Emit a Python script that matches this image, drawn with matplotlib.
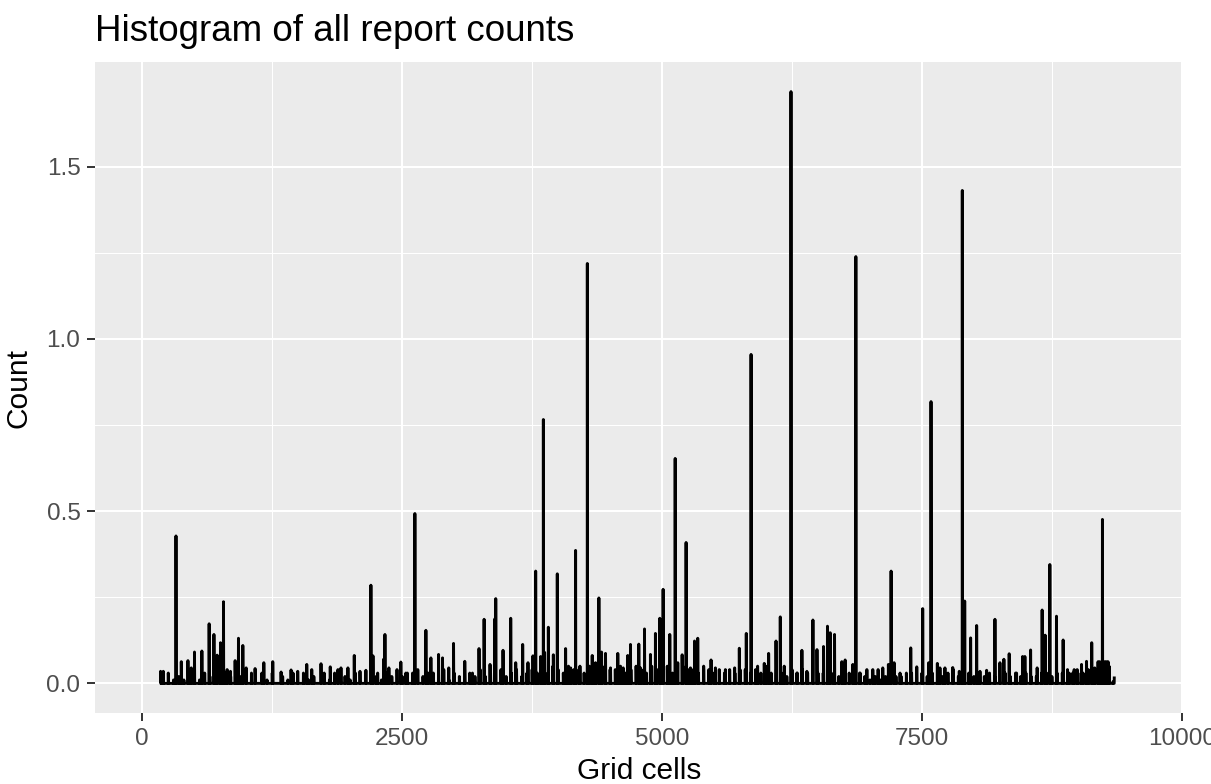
import numpy as np
import matplotlib.pyplot as plt

plt.rcParams['font.family'] = ['Liberation Sans', 'DejaVu Sans']

# grid cells holding the larger report counts
spike_cells = [176, 202, 324, 375, 439, 471, 502, 573, 643, 689, 720, 752, 781, 816, 848,
               893, 925, 967, 999, 1085, 1169, 1255, 1335, 1431, 1495, 1582, 1630, 1719,
               1808, 1882, 1911, 1978, 2039, 2094, 2151, 2199, 2219, 2264, 2321, 2334, 2372,
               2487, 2535, 2600, 2622, 2728, 2776, 2850, 2888, 2948, 2994, 3102, 3176, 3239,
               3288, 3345, 3390, 3400, 3470, 3544, 3592, 3659, 3710, 3758, 3784, 3832, 3858,
               3870, 3906, 3954, 3992, 4072, 4120, 4168, 4210, 4281, 4328, 4360, 4392, 4418,
               4456, 4504, 4574, 4626, 4670, 4696, 4776, 4792, 4831, 4888, 4936, 4978, 5010,
               5074, 5126, 5151, 5193, 5231, 5273, 5312, 5343, 5401, 5471, 5513, 5609, 5698,
               5743, 5810, 5856, 5919, 5983, 6025, 6096, 6137, 6175, 6240, 6297, 6345, 6393,
               6451, 6490, 6553, 6591, 6617, 6659, 6729, 6761, 6835, 6864, 6906, 6970, 7027,
               7078, 7123, 7177, 7203, 7232, 7289, 7392, 7450, 7507, 7565, 7587, 7648, 7673,
               7721, 7796, 7859, 7888, 7911, 7968, 8026, 8058, 8122, 8202, 8250, 8288, 8339,
               8410, 8468, 8490, 8545, 8608, 8656, 8685, 8730, 8794, 8858, 8916, 8964, 8993,
               9035, 9083, 9133, 9162, 9194, 9210, 9236, 9258, 9274, 9290, 9338]
spike_counts = [0.035, 0.035, 0.428, 0.063, 0.066, 0.045, 0.091, 0.094, 0.173, 0.142, 0.082,
                0.118, 0.237, 0.040, 0.035, 0.066, 0.131, 0.110, 0.045, 0.043, 0.060, 0.063,
                0.033, 0.039, 0.035, 0.055, 0.040, 0.057, 0.048, 0.040, 0.045, 0.045, 0.081,
                0.035, 0.038, 0.285, 0.080, 0.030, 0.070, 0.142, 0.045, 0.062, 0.030, 0.030,
                0.493, 0.154, 0.074, 0.084, 0.074, 0.045, 0.116, 0.064, 0.030, 0.101, 0.186,
                0.055, 0.187, 0.246, 0.096, 0.189, 0.060, 0.113, 0.060, 0.080, 0.326, 0.078,
                0.766, 0.090, 0.163, 0.083, 0.318, 0.101, 0.045, 0.386, 0.050, 1.219, 0.081,
                0.060, 0.248, 0.091, 0.087, 0.045, 0.087, 0.045, 0.081, 0.113, 0.114, 0.045,
                0.158, 0.084, 0.145, 0.189, 0.273, 0.142, 0.653, 0.060, 0.083, 0.409, 0.045,
                0.123, 0.131, 0.040, 0.068, 0.045, 0.040, 0.045, 0.102, 0.145, 0.955, 0.050,
                0.058, 0.087, 0.123, 0.193, 0.050, 1.718, 0.030, 0.096, 0.035, 0.184, 0.098,
                0.107, 0.166, 0.147, 0.142, 0.063, 0.068, 0.055, 1.239, 0.030, 0.040, 0.040,
                0.040, 0.045, 0.055, 0.326, 0.060, 0.030, 0.103, 0.048, 0.217, 0.060, 0.818,
                0.058, 0.045, 0.045, 0.046, 0.035, 1.431, 0.239, 0.132, 0.168, 0.035, 0.038,
                0.186, 0.060, 0.070, 0.086, 0.030, 0.078, 0.078, 0.097, 0.045, 0.213, 0.140,
                0.345, 0.195, 0.126, 0.030, 0.040, 0.040, 0.055, 0.064, 0.118, 0.045, 0.063,
                0.063, 0.476, 0.063, 0.063, 0.063, 0.005]

# small background counts (hundredths), one per block of 50 cells from cell 200
band_start, band_step = 200, 50
band_levels = [1, 3, 1, 2, 1, 3, 2, 1, 3, 2, 2, 1, 3, 2, 1, 2, 3,
               3, 0, 3, 1, 3, 0, 2, 1, 3, 0, 3, 1, 2, 0, 3, 1, 3, 0, 2, 1, 3, 0, 3, 1, 2, 1,
               3, 2, 4, 2, 3, 1, 4, 2, 3, 3, 2, 4, 1, 3, 2, 4, 3, 2, 4, 2, 3, 3, 4, 2, 3, 4,
               2, 3, 4, 3,
               4, 3, 5, 4, 3, 5, 4, 4, 3, 5, 4, 3, 5, 4, 4, 5, 3, 4, 5, 4, 3, 5, 4, 4, 5, 3,
               4, 5, 4, 4, 3, 5, 4, 3, 4, 3, 4, 3, 4,
               4, 3, 4, 3, 5, 3, 4, 3, 2, 4, 3, 4, 3, 4, 3, 3, 4, 3, 2, 3, 3, 4, 3,
               2, 1, 2, 1, 2, 1, 2, 2, 3,
               3, 2, 3, 2, 3, 3, 2, 3, 4, 2, 3, 3, 2, 3, 2, 3, 2, 3, 3, 2, 3, 2, 3, 2, 2, 3,
               3, 2, 3, 3, 4, 3, 3, 3, 4, 4, 5, 5, 5, 2]

band_cells = band_start + band_step * np.arange(len(band_levels))
first_cell = 170
last_cell = max(band_cells.max(), max(spike_cells))
cells = np.arange(first_cell, last_cell + 1)
counts = np.zeros(len(cells))
counts[band_cells - first_cell] = np.array(band_levels) / 100.0
idx = np.array(spike_cells) - first_cell
counts[idx] = np.maximum(counts[idx], spike_counts)

fig = plt.figure(figsize=(12.11, 7.84), dpi=100)
ax = fig.add_axes([95 / 1211, 71 / 784, 1088 / 1211, 651 / 784])
ax.set_facecolor('#EBEBEB')
for s in ax.spines.values():
    s.set_visible(False)

ax.plot(cells, counts, color='black', lw=2.1, solid_joinstyle='round',
        solid_capstyle='butt')

ax.set_xlim(-455, 10011)
ax.set_ylim(-0.086, 1.804)
ax.set_xticks([0, 2500, 5000, 7500, 10000])
ax.set_xticks([1250, 3750, 6250, 8750], minor=True)
ax.set_yticks([0.0, 0.5, 1.0, 1.5])
ax.set_yticks([0.25, 0.75, 1.25], minor=True)
ax.set_yticklabels(['0.0', '0.5', '1.0', '1.5'])
ax.grid(which='major', color='white', lw=1.5)
ax.grid(which='minor', color='white', lw=0.75)
ax.set_axisbelow(True)
ax.tick_params(which='major', length=5.5, width=1.4, color='#333333',
               labelsize=17.5, labelcolor='#4D4D4D', pad=5)
ax.tick_params(which='minor', length=0)

ax.set_xlabel('Grid cells', fontsize=21.5, labelpad=5)
ax.set_ylabel('Count', fontsize=21.5, labelpad=10)
fig.text(95 / 1211, 1 - 41 / 784, 'Histogram of all report counts',
         fontsize=26.5, ha='left', va='baseline')

fig.savefig('out.png', dpi=100)
